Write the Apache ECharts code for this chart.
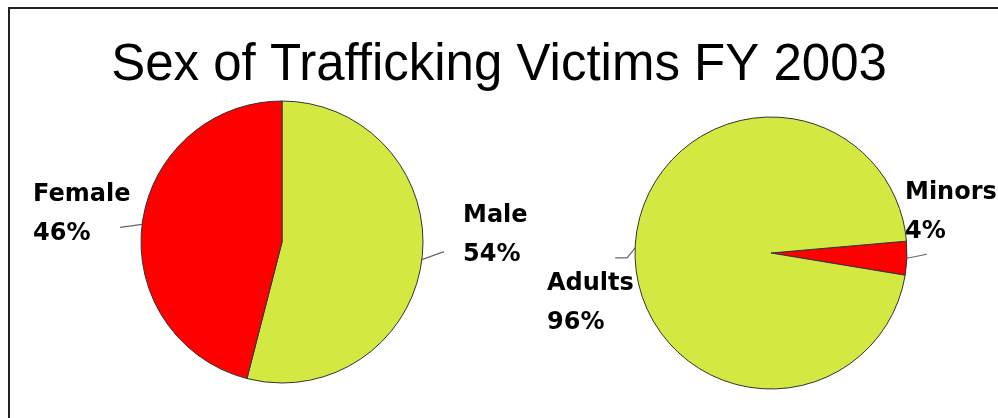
<!DOCTYPE html>
<html>
<head>
<meta charset="utf-8">
<script src="https://cdn.jsdelivr.net/npm/echarts@6/dist/echarts.min.js"></script>
<style>
html,body{margin:0;padding:0;background:#fff;}
#chart{width:998px;height:418px;}
</style>
</head>
<body>
<div id="chart"></div>
<script>
const titleText = 'Sex of Trafficking Victims FY 2003';
const sexCategories = ['Male', 'Female'];
const sexValues = [54, 46];
const ageCategories = ['Minors', 'Adults'];
const ageValues = [4, 96];

const GREEN = '#d3e840';
const RED = '#ff0000';

// label placement (layout only)
const labelPos = {
  '0-0': {x: 463, y: 235, line: [[22, -8]]},
  '0-1': {x: 33, y: 214, line: [[-22, 3]]},
  '1-0': {x: 905, y: 212, line: [[20, -4]]},
  '1-1': {x: 547, y: 303, line: [[-8, 10], [-20, 10]]}
};

const labelStyle = {
  show: true,
  position: 'outside',
  formatter: '{b}\n{d}%',
  fontFamily: 'DejaVu Sans',
  fontWeight: 'bold',
  fontSize: 24,
  lineHeight: 39,
  color: '#000',
  align: 'left'
};

function layoutFn(params) {
  const cfg = labelPos[params.seriesIndex + '-' + params.dataIndex];
  const p0 = params.labelLinePoints ? params.labelLinePoints[0] : [0, 0];
  const pts = [p0].concat(cfg.line.map(d => [p0[0] + d[0], p0[1] + d[1]]));
  return {x: cfg.x, y: cfg.y, align: 'left', verticalAlign: 'middle', labelLinePoints: pts};
}

const chart = echarts.init(document.getElementById('chart'), null, {renderer: 'canvas'});
chart.setOption({
  animation: false,
  backgroundColor: '#fff',
  title: {
    text: titleText,
    left: 'center',
    top: 35,
    textStyle: {fontFamily: 'Liberation Sans', fontSize: 51, fontWeight: 'normal', color: '#000'}
  },
  graphic: [{
    type: 'rect',
    shape: {x: 9, y: 8, width: 1100, height: 500},
    style: {fill: 'none', stroke: '#222', lineWidth: 2},
    silent: true
  }],
  series: [
    {
      type: 'pie',
      center: [282, 242],
      radius: 141,
      startAngle: 90,
      clockwise: true,
      avoidLabelOverlap: false,
      data: sexCategories.map((c, i) => ({name: c, value: sexValues[i], itemStyle: {color: i === 0 ? GREEN : RED}})),
      itemStyle: {borderColor: '#333', borderWidth: 1},
      label: labelStyle,
      labelLine: {show: true, length: 10, length2: 10, lineStyle: {color: '#666', width: 1.2}},
      labelLayout: layoutFn,
      emphasis: {disabled: true}
    },
    {
      type: 'pie',
      center: [771, 253],
      radius: 136,
      startAngle: 5,
      clockwise: true,
      avoidLabelOverlap: false,
      data: ageCategories.map((c, i) => ({name: c, value: ageValues[i], itemStyle: {color: i === 0 ? RED : GREEN}})),
      itemStyle: {borderColor: '#333', borderWidth: 1},
      label: labelStyle,
      labelLine: {show: true, length: 10, length2: 10, lineStyle: {color: '#666', width: 1.2}},
      labelLayout: layoutFn,
      emphasis: {disabled: true}
    }
  ]
});
</script>
</body>
</html>
